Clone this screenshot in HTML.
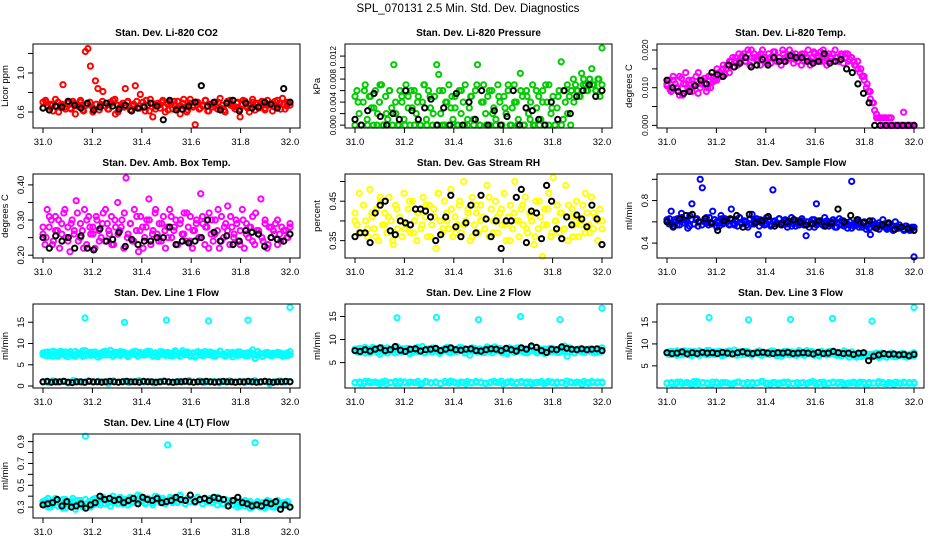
<!DOCTYPE html>
<html><head><meta charset="utf-8"><style>
html,body{margin:0;padding:0;background:#fff}
svg{display:block;font-family:"Liberation Sans",sans-serif}
</style></head><body>
<svg id="chart" width="936" height="540" viewBox="0 0 936 540">
<text x="468" y="12" text-anchor="middle" font-size="11.5">SPL_070131  2.5 Min. Std. Dev. Diagnostics</text>
</svg>
<script>
const xTickValues=[31.0,31.2,31.4,31.6,31.8,32.0];
const xTickLabels=["31.0","31.2","31.4","31.6","31.8","32.0"];
const outlierTimes=[31.17,31.33,31.5,31.67,31.83,32.0];
const co2Red=[0.70,0.72,0.65,0.68,0.61,0.66,0.70,0.67,0.88,0.63,0.69,0.64,0.71,0.58,0.66,0.70,0.62,1.22,1.25,1.07,0.60,0.92,0.84,0.68,0.81,0.66,0.63,0.70,0.72,0.58,0.67,0.65,0.69,0.84,0.71,0.62,0.66,0.87,0.64,0.78,0.70,0.61,0.67,0.73,0.55,0.66,0.69,0.64,0.72,0.60,0.68,0.70,0.63,0.66,0.71,0.58,0.69,0.65,0.62,0.73,0.67,0.47,0.70,0.64,0.66,0.72,0.61,0.68,0.65,0.70,0.63,0.74,0.67,0.60,0.69,0.72,0.66,0.63,0.70,0.55,0.68,0.71,0.64,0.67,0.73,0.62,0.69,0.66,0.70,0.64,0.72,0.68,0.61,0.71,0.66,0.69,0.74,0.63,0.70,0.67];
const co2Red2=[0.64,0.70,0.62,0.67,0.73,0.60,0.68,0.65,0.71,0.63,0.69,0.66,0.72,0.61,0.67,0.70,0.64,0.68,0.62,0.71,0.66,0.63,0.69,0.73,0.60,0.67,0.65,0.70,0.62,0.68,0.71,0.64,0.66,0.72,0.61,0.69,0.63,0.67,0.70,0.65,0.62,0.68,0.71,0.64,0.66,0.73,0.60,0.69,0.65,0.70,0.63,0.67,0.72,0.61,0.68,0.66,0.70,0.64,0.62,0.71,0.67,0.65,0.69,0.63,0.72,0.66,0.60,0.70,0.68,0.64,0.71,0.62,0.67,0.69,0.65,0.72,0.63,0.68,0.66,0.70];
const co2Black=[0.64,0.62,0.66,0.65,0.71,0.67,0.64,0.69,0.62,0.65,0.69,0.66,0.63,0.67,0.61,0.64,0.65,0.69,0.66,0.52,0.72,0.62,0.63,0.66,0.70,0.87,0.66,0.70,0.62,0.69,0.72,0.61,0.69,0.64,0.65,0.70,0.68,0.64,0.84,0.70];
const presGreen=[5,6,2,0,4,7,1,5,3,0,6,2,4,7,0,5,1,6,3,10.5,2,0,6,4,1,7,5,0,3,6,2,5,0,4,7,1,6,3,0,5,10.5,8.8,2,6,0,4,7,3,1,5,0,6,2,4,7,0,3,5,1,6,10.5,0,4,7,2,5,0,6,3,1,7,4,0,5,2,6,0,3,7,4,1,9,5,0,6,2,4,7,0,3,5,1,6,0,4,7,2,5,0,3,6,11,1,4,7,5,6,8,7,6,5,9,8,7,6,8,9.8,7,6,8,5,13.4];
const presGreen2=[0,4,0,6,0,5,3,0,7,0,2,6,0,4,0,5,0,3,6,0,4,0,7,0,5,2,0,6,0,4,0,5,3,0,6,0,1,5,0,7,0,4,0,6,2,0,5,0,3,7,0,4,0,6,0,5,1,0,6,0,4,7,0,3,0,5,0,6,2,0,4,6,5,7,6,8,7,6,8,7];
const presBlack=[1,0,2.5,5.5,1.5,0,2,1,6,2.5,1,3,4.5,0,3,0,5.5,0,4,1,6,0,2.5,0,1.5,6,0,3,2.5,1,0,4,1,6,2,5,6,7,5,6];
const tempMagenta=[10.5,12,9,13,11,10,8,12.5,11,14,10,9.5,12,11,13,8.5,10,12,11,9,13,10,11.5,12,12,14,13,15,13.5,16,14,17,15.5,18,16,17,18,19,17,20,16,18,19,17.5,18.5,16,20,18,17,19,16.5,18,19.5,17,18,16,19,18,17.5,20,18,16.5,19,17,18.5,19,17,18,20,16,18,19,17,18.5,19.5,17,18,16,19,18,17,20,18,17,19,16.5,18,19,17.5,18,17,16,15,14,13,12,10,9,7,6,4,2,2,2,0,2,0,0,2,0,0,0,0,0,3.5,0,0,0,0,0];
const tempMagenta2=[11,9.5,12,10,13,8,11,12,9,10.5,14,11,12.5,10,13,12,15,14,16,15,17,18,17,19,18.5,17,19,20,18,17.5,19,18,16.5,18,19.5,17,18,20,17,18.5,19,17.5,18,16,19,18,17,19.5,18,17,20,18.5,17,19,18,17,18.5,19,17,18,16,17,15,13,11,9,6,3,2,2,2,2,0,0,0,0,0,0,0,0];
const tempBlack=[12,10,9,8.5,9,10.5,12,11,14,13.5,13,16,15.5,16.5,18,15.5,16,17.5,16,18,17,17,18.5,18,18,17,16.5,17,19,16.5,17,17.5,15,14,11,8.5,6,0,0,0,0,0,0,0,0];
const ambMagenta=[26,23,33,28,30,24,31,27,22,29,32,25,28,21,30,26,35.5,24,29,27,33,23,31,26,28,22,30,27,25,32,24,29,26,31,23,28,35,27,30,22,42,26,29,24,33,27,21,31,28,25,30,36,23,27,32,26,29,24,31,22,28,33,25,27,30,23,29,26,32,24,28,31,22,27,30,25,37.5,29,23,28,32,26,24,30,27,22,31,25,29,34,23,28,26,30,24,27,33,22,29,25,28,31,23,27,26,36,24,30,22,28,25,27,29,23,26,28,24,27,25,29];
const ambMagenta2=[28,25,31,23,27,30,26,33,24,29,27,32,25,22,30,28,26,31,24,29,33,27,23,30,26,28,32,25,29,24,31,27,22,28,30,26,33,24,29,27,25,31,28,23,30,26,32,24,27,29,25,31,28,22,30,26,33,24,28,27,31,25,29,23,30,26,28,24,32,27,25,29,23,28,26,30,24,27,25,28];
const ambBlack=[25,22,25.5,24,25,22,25.5,22,21.5,27.5,24,24.5,26.5,22.5,24.5,23,24,24,25,25,28,23,24,23.5,24,25,30,26.5,24,25.5,23,24,27,26.5,26,22.5,25,24.5,24,26];
const rhYellow=[42,39,47,37,44,40,36,48,41,38,43,35,45,39,42,37,46,40,34,44,38,41,36,47,39,43,37,45,40,35,42,38,46,41,36,44,39,43,33,47,40,37,45,42,38,48,36,41,39,44,37,50,40,43,35,46,39,42,37,44,41,38,49,36,43,40,45,37,42,39,47,35,41,44,38,50,40,36,43,39,46,37,42,40,34,45,38,41,31,43,39,47,36,51,40,44,37,42,38,49,35,41,43,39,45,36,40,44,37,42,39,46,38,41,35,43,40];
const rhYellow2=[40,37,44,38,42,36,46,39,41,35,43,40,38,45,37,42,39,44,36,41,47,38,40,43,37,45,39,42,36,44,40,38,46,37,41,43,39,35,42,40,44,38,41,36,45,39,43,37,40,42,38,44,36,41,39,47,37,42,40,38];
const rhBlack=[36,37,37,34.5,42,44,45,37.5,36.5,40,39.5,39,43,43,42.5,41,35,36.5,41,46.5,38.5,36,39.5,44,37,46.5,40.5,36,40,33,40,40,46,48,34.5,42.5,42,35.5,49,45,38,35.5,41,39,41.5,40.5,38.5,44,40.5,34];
const flowBlue=[62,58,70,55,60,63,57,68,59,61,54,66,77,58,62,56,100,92,60,64,57,59,70,62,55,61,66,58,63,60,57,72,59,62,56,64,58,61,60,55,63,67,58,61,48,62,59,57,64,60,56,90,61,58,63,57,59,62,55,60,64,58,56,61,59,63,57,47,60,58,62,55,77,59,61,57,64,58,56,60,62,55,59,63,57,61,58,54,60,98,56,59,62,57,55,60,53,58,48,61,56,54,59,57,62,55,53,58,56,52,60,54,57,55,53,56,54,52,55,27];
const flowBlue2=[60,63,58,62,57,61,64,59,60,56,62,58,63,60,57,61,59,64,58,62,60,56,63,59,61,58,62,57,60,64,59,61,57,62,58,60,63,56,59,61,58,62,57,60,59,63,57,61,58,60,56,62,59,57,61,58,60,55,59,62,57,60,58,56,61,59,57,60,55,58,61,56,59,57,54,58,60,55,57,59,56,54,58,55,57,53,56,58,54,55,57,53,56,54,55,52,56,54,53,55];
const flowBlack=[60,56,63,66,67,60,63,59,52,61,63,66,55,67,59,61,65,56,58,60,62,60,57,58,61,56,59,72,60,66,62,59,61,54,57,59,53,55,54,52];
const l1Band=[7.4,7.9,7.1,7.6,8.2,7.3,7.0,7.8,7.5,8.0,6.9,7.6,7.2,8.1,7.4,7.7,7.0,8.3,7.5,7.2,7.9,7.4,6.8,7.7,8.0,7.3,7.6,8.4,7.1,7.5,7.8,7.2,8.0,7.4,6.9,7.7,7.5,8.2,7.0,7.6,7.3,7.9,7.5,8.1,7.2,7.7,6.9,7.4,8.0,7.3,7.6,7.1,7.8,8.3,7.4,7.0,7.7,7.5,8.0,7.2,7.6,6.8,7.9,7.4,7.1,8.1,7.5,7.3,7.8,7.0,7.6,8.2,7.4,7.2,7.9,7.5,6.9,7.7,8.0,7.3,7.6,7.1,7.8,7.4,8.5,6.5,7.2,7.7,7.0,7.5,7.9,7.3,7.1,7.6,7.4,7.8,7.0,7.5,7.2,8.1];
const l1Band2=[7.8,7.2,8.0,7.5,7.0,7.9,7.3,8.2,7.6,7.1,7.7,8.1,7.4,7.0,7.8,7.5,8.3,7.2,7.6,7.9,7.3,8.0,7.5,7.1,7.7,8.2,7.4,7.6,7.0,7.9,7.3,8.1,7.5,7.8,7.2,7.6,8.0,7.4,7.1,7.9,7.7,7.3,8.2,7.5,7.0,7.8,7.4,8.1,7.6,7.2,7.9,7.5,7.1,8.0,7.3,7.7,8.3,7.4,7.6,7.0,7.8,7.2,8.1,7.5,7.9,7.3,7.6,8.0,7.1,7.7,7.4,8.2,7.5,7.0,7.8,7.3,7.9,7.6,7.2,8.0,7.4,7.7,7.1,7.9,7.5,7.3,8.1,7.6,7.0,7.8,7.4,7.2,7.7,7.5,7.9,7.3,7.6,7.1,7.8,7.4];
const l1Low=[1.0,0.8,1.2,0.9,1.1,0.7,1.3,1.0,0.8,1.2,0.9,1.1,1.0,0.6,1.2,0.9,1.1,0.8,1.0,1.3,0.9,1.1,0.7,1.0,1.2,0.9,0.8,1.1,1.0,1.3,0.9,1.2,0.8,1.0,1.1,0.7,1.0,1.2,0.9,1.1,0.8,1.0,1.3,0.9,1.1,0.5,1.0,1.2,0.9,1.1];
const l1Out=[16,15,15.5,15.3,15.5,18.5];
const l1Black=[1.0,1.1,0.9,1.0,1.0,1.1,0.9,0.8,1.0,1.0,0.9,1.1,1.0,1.0,0.9,1.0,1.1,1.0,0.9,1.0,1.1,1.0,1.0,0.9,1.1,1.0,1.0,0.9,1.0,1.1,1.0,0.9,1.0,1.0,1.1,1.0,0.9,1.0,1.0,1.1,1.0,0.9,1.0,1.1,1.0,1.0,0.9,1.0,1.0,1.1,1.0,0.9,1.0,1.1,1.0,0.9,1.0,1.0,1.1,1.0];
const l2Band=[7.6,8.0,7.2,7.8,8.3,7.4,7.1,7.9,7.6,8.1,6.8,7.7,7.3,8.2,7.5,7.8,7.1,8.4,7.6,7.3,8.0,7.5,6.9,7.8,8.1,7.4,7.7,8.5,7.2,7.6,7.9,7.3,8.1,7.5,7.0,7.8,7.6,8.3,7.1,7.7,7.4,8.0,7.6,8.2,7.3,7.8,6.6,7.5,8.1,7.4,7.7,7.2,7.9,8.4,7.5,7.1,7.8,7.6,8.1,7.3,7.7,6.9,8.0,7.5,7.2,8.2,7.6,7.4,7.9,7.1,7.7,8.3,7.5,7.3,8.0,7.6,7.0,7.8,8.1,7.4,7.7,7.2,7.9,7.5,8.6,6.4,7.3,7.8,7.1,7.6,8.0,7.4,7.2,7.7,7.5,7.9,7.1,7.6,7.3,8.2];
const l2Band2=[7.9,7.3,8.1,7.6,7.1,8.0,7.4,8.3,7.7,7.2,7.8,8.2,7.5,7.1,7.9,7.6,8.4,7.3,7.7,8.0,7.4,8.1,7.6,7.2,7.8,8.3,7.5,7.7,7.1,8.0,7.4,8.2,7.6,7.9,7.3,7.7,8.1,7.5,7.2,8.0,7.8,7.4,8.3,7.6,7.1,7.9,7.5,8.2,7.7,7.3,8.0,7.6,7.2,8.1,7.4,7.8,8.4,7.5,7.7,7.1,7.9,7.3,8.2,7.6,8.0,7.4,7.7,8.1,7.2,7.8,7.5,8.3,7.6,7.1,7.9,7.4,8.0,7.7,7.3,8.1,7.5,7.8,7.2,8.0,7.6,7.4,8.2,7.7,7.1,7.9,7.5,7.3,7.8,7.6,8.0,7.4,7.7,7.2,7.9,7.5];
const l2Low=[0.7,0.5,0.9,0.6,0.8,0.4,1.0,0.7,0.5,0.9,0.6,0.8,0.7,0.3,0.9,0.6,0.8,0.5,0.7,1.0,0.6,0.8,0.4,0.7,0.9,0.6,0.5,0.8,0.7,1.0,0.6,0.9,0.5,0.7,0.8,0.4,0.7,0.9,0.6,0.8,0.5,0.7,1.0,0.6,0.8,0.3,0.7,0.9,0.6,0.8];
const l2Low2=[0.6,0.8,0.5,0.9,0.7,0.6,0.8,0.4,0.7,0.9,0.5,0.8,0.6,0.7,0.9,0.5,0.8,0.6,0.7,0.4,0.9,0.6,0.8,0.5,0.7,0.9,0.6,0.7,0.8,0.5,0.6,0.9,0.7,0.4,0.8,0.6,0.7,0.9,0.5,0.8,0.6,0.7,0.5,0.9,0.6,0.8,0.7,0.4,0.8,0.6,0.7,0.9,0.5,0.7,0.8,0.6];
const l2Out=[14.7,14.8,14.3,15,14.3,16.8];
const l2Black=[7.6,7.4,7.8,7.5,7.9,8.2,7.6,7.8,8.5,7.7,7.4,7.9,8.0,7.5,7.8,7.9,8.1,7.6,7.9,8.2,7.8,7.7,7.9,8.0,7.6,7.5,7.8,8.0,7.9,7.6,8.1,7.8,7.5,8.2,7.9,8.6,8.3,7.6,7.2,7.9,7.8,8.4,8.1,7.9,7.8,8.0,7.8,7.9,8.0,7.6];
const l3Band=[7.9,8.2,7.6,8.0,8.4,7.7,7.5,8.1,7.8,8.3,7.3,8.0,7.6,8.4,7.8,8.0,7.5,8.5,7.9,7.6,8.2,7.8,7.3,8.0,8.3,7.7,8.0,8.6,7.5,7.9,8.1,7.6,8.3,7.8,7.4,8.0,7.9,8.4,7.5,8.0,7.7,8.2,7.9,8.3,7.6,8.0,7.2,7.8,8.3,7.7,8.0,7.5,8.1,8.5,7.8,7.4,8.0,7.9,8.3,7.6,8.0,7.3,8.2,7.8,7.5,8.3,7.9,7.7,8.1,7.4,8.0,8.4,7.8,7.6,8.2,7.4,7.0,7.2,7.6,7.3,7.7,7.1,7.6,7.3,7.9,6.9,7.2,7.7,7.0,7.5,7.9,7.3,7.1,7.6,7.4,7.8,7.0,7.5,7.2,8.0];
const l3Band2=[8.1,7.6,8.3,7.8,7.4,8.2,7.7,8.4,7.9,7.5,8.0,8.3,7.7,7.4,8.1,7.8,8.5,7.6,7.9,8.2,7.7,8.3,7.8,7.5,8.0,8.4,7.7,7.9,7.4,8.2,7.6,8.3,7.8,8.1,7.5,7.9,8.2,7.7,7.4,8.1,8.0,7.6,8.4,7.8,7.3,8.1,7.7,8.3,7.9,7.5,8.2,7.8,7.4,8.2,7.6,8.0,8.5,7.7,7.9,7.4,8.0,7.5,8.3,7.8,8.1,7.6,7.9,8.2,7.4,7.6,7.2,7.9,7.4,7.0,7.6,7.2,7.8,7.5,7.1,7.8,7.3,7.6,7.0,7.7,7.4,7.2,7.9,7.5,7.0,7.7,7.3,7.1,7.6,7.4,7.8,7.2,7.5,7.1,7.7,7.3];
const l3Low=[1.1,0.9,1.3,1.0,1.2,0.8,1.4,1.1,0.9,1.3,1.0,1.2,1.1,0.8,1.3,1.0,1.2,0.9,1.1,1.4,1.0,1.2,0.8,1.1,1.3,1.0,0.9,1.2,1.1,1.4,1.0,1.3,0.9,1.1,1.2,0.8,1.1,1.3,1.0,1.2,0.9,1.1,1.4,1.0,1.2,0.8,1.1,1.3,1.0,1.2];
const l3Low2=[1.0,1.2,0.9,1.3,1.1,1.0,1.4,0.9,1.2,1.1,0.8,1.3,1.0,1.2,0.9,1.1,1.3,1.0,0.9,1.2,1.1,1.4,1.0,0.8,1.2,1.1,1.3,0.9,1.0,1.2,1.1,0.9,1.3,1.0,1.2,0.8,1.1,1.3,1.0,1.2,0.9,1.1,1.0,1.3,0.9,1.2,1.1,1.0,1.2,0.9,1.1,1.3,1.0,1.1,1.2,1.0];
const l3Out=[16,15.5,15.6,15.8,15.2,18.3];
const l3Black=[8.0,7.8,7.9,8.2,7.7,8.0,7.8,8.1,7.9,8.0,7.8,8.1,7.9,7.7,8.0,8.2,7.9,7.8,8.0,8.1,7.9,7.8,8.0,7.9,8.1,7.8,7.9,8.0,7.9,7.7,8.1,7.8,7.9,8.3,8.0,7.8,7.9,7.6,7.9,8.0,6.2,7.2,7.5,7.8,7.6,7.7,7.5,7.6,7.3,7.6];
const l4Cyan=[35,32,38,30,34,36,31,33,29,37,34,32,35,28,33,36,31,95,34,30,37,33,35,32,38,36,34,31,37,35,33,39,36,34,32,38,35,37,33,40,36,34,38,35,32,37,39,34,36,33,87,38,35,37,34,40,36,33,38,35,37,34,39,36,33,37,35,38,34,36,39,35,33,37,34,36,32,35,33,31,34,36,32,35,30,89,33,31,34,29,32,35,30,33,36,31,34,32,35,30];
const l4Cyan2=[33,36,30,35,32,38,31,34,37,29,35,33,38,31,36,34,30,37,33,35,32,38,36,34,39,33,37,35,40,34,36,38,33,37,35,39,34,36,41,35,37,33,38,36,34,40,37,35,38,33,36,39,34,37,35,41,36,33,38,35,37,34,39,36,33,38,35,37,34,36,32,35,33,37,31,34,32,36,30,33,35,31,34,29,33,32,35,30,34,31,36,32,34,30,35,33,31,34,32,30];
const l4Black=[32,33,34,37,31,35,30,31,33,29,32,34,40,37,38,36,37,34,36,38,33,39,37,36,38,34,35,36,39,37,36,41,35,37,38,36,39,38,37,31,36,39,34,33,31,32,31,34,33,35,28,32,30];

const NS="http://www.w3.org/2000/svg";
const svg=document.getElementById('chart');
function mk(tag,attrs,parent){const e=document.createElementNS(NS,tag);for(const k in attrs)e.setAttribute(k,attrs[k]);(parent||svg).appendChild(e);return e;}
const colL=[33,345,657],rowT=[44,174,304,434],W=267,H=84;

function drawPanel(p){
  const L=colL[p.col],T=rowT[p.row];
  const g=mk('g',{});
  
  
  const xs=t=>L+10+(t-31)*(W-20);
  const ys=v=>T+H*(p.ymax-v)/(p.ymax-p.ymin);
  const tt=mk('text',{x:L+W/2,y:T-8,'text-anchor':'middle','font-size':'10','font-weight':'bold'},g);
  tt.textContent=p.title;
  
  
  const pts=mk('g',{fill:'none','stroke-width':'2'},g);
  
  
  p.series.forEach(s=>{
    const n=s.vals.length;
    s.vals.forEach((v,i)=>{
      const t=s.times?s.times[i]:31+i/(n-1);
      const c=mk('circle',{cx:xs(t).toFixed(1),cy:ys(v*s.k).toFixed(1),r:'2.6',stroke:s.color},pts);
      
      
    });
  });
  const box=mk('rect',{x:L,y:T,width:W,height:H,fill:'none',stroke:'#000','stroke-width':'1'},g);
  
  
  xTickValues.forEach((t,i)=>{
    const x=xs(t);
    mk('line',{x1:x,y1:T+H,x2:x,y2:T+H+5,stroke:'#000'},g);
    const lb=mk('text',{x:x,y:T+H+17,'text-anchor':'middle','font-size':'9.5'},g);
    lb.textContent=xTickLabels[i];
    
    
  });
  p.yTicks.forEach((v,i)=>{
    const y=ys(v);
    mk('line',{x1:L-5,y1:y,x2:L,y2:y,stroke:'#000'},g);
    if(p.yLabels[i]){
      const lb=mk('text',{x:L-9,y:y,'text-anchor':'middle','font-size':p.yfs||'9.5',transform:`rotate(-90 ${L-9} ${y})`},g);
      lb.textContent=p.yLabels[i];
      
      
    }
  });
  const yl=mk('text',{x:L-25,y:T+H/2,'text-anchor':'middle','font-size':'9.5',transform:`rotate(-90 ${L-25} ${T+H/2})`},g);
  yl.textContent=p.ylab;
  
  
}
const panels=[
 {name:'co2',col:0,row:0,title:'Stan. Dev. Li-820 CO2',ylab:'Licor ppm',ymin:0.436,ymax:1.297,yTicks:[0.6,0.8,1.0,1.2],yLabels:['0.6','','1.0',''],series:[{vals:co2Red,color:'#ff0000',k:1},{vals:co2Red2,color:'#ff0000',k:1},{vals:co2Black,color:'#000',k:1}]},
 {name:'pressure',col:1,row:0,title:'Stan. Dev. Li-820 Pressure',ylab:'kPa',yfs:'8',ymin:-0.0005,ymax:0.0141,yTicks:[0,0.002,0.004,0.006,0.008,0.010,0.012],yLabels:['0.000','','0.004','','0.008','','0.012'],series:[{vals:presGreen,color:'#00cc00',k:0.001},{vals:presGreen2,color:'#00cc00',k:0.001},{vals:presBlack,color:'#000',k:0.001}]},
 {name:'temp',col:2,row:0,title:'Stan. Dev. Li-820 Temp.',ylab:'degrees C',yfs:'8.5',ymin:-0.0007,ymax:0.0216,yTicks:[0,0.005,0.010,0.015,0.020],yLabels:['0.000','','0.010','','0.020'],series:[{vals:tempMagenta,color:'#ff00ff',k:0.001},{vals:tempMagenta2,color:'#ff00ff',k:0.001},{vals:tempBlack,color:'#000',k:0.001}]},
 {name:'amb-box-temp',col:0,row:1,title:'Stan. Dev. Amb. Box Temp.',ylab:'degrees C',ymin:0.192,ymax:0.431,yTicks:[0.20,0.25,0.30,0.35,0.40],yLabels:['0.20','','0.30','','0.40'],series:[{vals:ambMagenta,color:'#ff00ff',k:0.01},{vals:ambMagenta2,color:'#ff00ff',k:0.01},{vals:ambBlack,color:'#000',k:0.01}]},
 {name:'gas-rh',col:1,row:1,title:'Stan. Dev. Gas Stream RH',ylab:'percent',ymin:0.306,ymax:0.519,yTicks:[0.35,0.40,0.45,0.50],yLabels:['0.35','','0.45',''],series:[{vals:rhYellow,color:'#ffff00',k:0.01},{vals:rhYellow2,color:'#ffff00',k:0.01},{vals:rhBlack,color:'#000',k:0.01}]},
 {name:'sample-flow',col:2,row:1,title:'Stan. Dev. Sample Flow',ylab:'ml/min',ymin:0.26,ymax:1.05,yTicks:[0.4,0.6,0.8,1.0],yLabels:['0.4','','0.8',''],series:[{vals:flowBlue,color:'#0000ff',k:0.01},{vals:flowBlue2,color:'#0000ff',k:0.01},{vals:flowBlack,color:'#000',k:0.01}]},
 {name:'line1-flow',col:0,row:2,title:'Stan. Dev. Line 1 Flow',ylab:'ml/min',ymin:-0.47,ymax:19.3,yTicks:[0,5,10,15],yLabels:['0','5','10','15'],series:[{vals:l1Band,color:'#00ffff',k:1},{vals:l1Band2,color:'#00ffff',k:1},{vals:l1Low,color:'#00ffff',k:1},{vals:l1Out,times:outlierTimes,color:'#00ffff',k:1},{vals:l1Black,color:'#000',k:1}]},
 {name:'line2-flow',col:1,row:2,title:'Stan. Dev. Line 2 Flow',ylab:'ml/min',ymin:-0.5,ymax:17.7,yTicks:[5,10,15],yLabels:['5','10','15'],series:[{vals:l2Band,color:'#00ffff',k:1},{vals:l2Band2,color:'#00ffff',k:1},{vals:l2Low,color:'#00ffff',k:1},{vals:l2Low2,color:'#00ffff',k:1},{vals:l2Out,times:outlierTimes,color:'#00ffff',k:1},{vals:l2Black,color:'#000',k:1}]},
 {name:'line3-flow',col:2,row:2,title:'Stan. Dev. Line 3 Flow',ylab:'ml/min',ymin:-0.05,ymax:19.1,yTicks:[5,10,15],yLabels:['5','10','15'],series:[{vals:l3Band,color:'#00ffff',k:1},{vals:l3Band2,color:'#00ffff',k:1},{vals:l3Low,color:'#00ffff',k:1},{vals:l3Low2,color:'#00ffff',k:1},{vals:l3Out,times:outlierTimes,color:'#00ffff',k:1},{vals:l3Black,color:'#000',k:1}]},
 {name:'line4-flow',col:0,row:3,title:'Stan. Dev. Line 4 (LT) Flow',ylab:'ml/min',ymin:0.2,ymax:0.97,yTicks:[0.3,0.4,0.5,0.6,0.7,0.8,0.9],yLabels:['0.3','','0.5','','0.7','','0.9'],series:[{vals:l4Cyan,color:'#00ffff',k:0.01},{vals:l4Cyan2,color:'#00ffff',k:0.01},{vals:l4Black,color:'#000',k:0.01}]}
];
panels.forEach(drawPanel);
</script>
</body></html>
